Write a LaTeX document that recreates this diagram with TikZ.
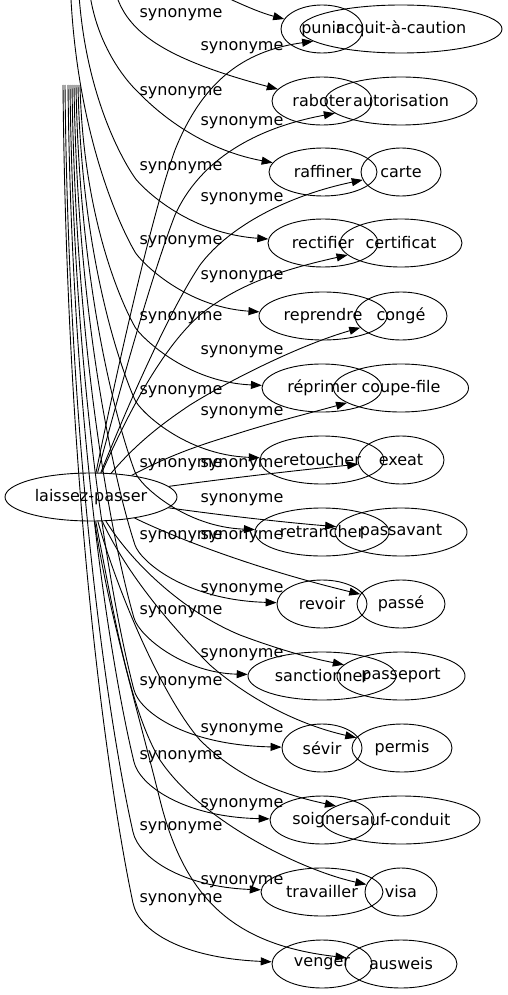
\documentclass[tikz,border=0pt]{standalone}
\usepackage{fontspec}
\setmainfont{DejaVu Sans}
\usetikzlibrary{arrows.meta,shapes.geometric}
\newcommand\zb[1]{\makebox[0pt]{#1}}
\newcommand\synedge[6]{%
  \coordinate (#1) at (#2,#3);
  \draw[edge] (#1) .. controls ({#2+0.06*((#4)-(#2))},{#3+0.55*((#5)-(#3))})
     and ({#4-0.25*((#4)-(#2))},{#5-0.1*((#5)-(#3))}) .. (#4,#5)
     .. controls ({#4+0.0875*((#4)-(#2))},{#5+0.035*((#5)-(#3))})
     and ({#4+50},{#5+55}) .. (#6);}
\begin{document}
\begin{tikzpicture}[x=1pt,y=-1pt,
  word/.style={draw, ellipse, line width=0.9pt, inner sep=0pt, minimum height=48pt},
  lab/.style={inner sep=0pt},
  edge/.style={line width=0.9pt, -{Triangle[length=11pt,width=8pt]}},
  font=\fontsize{16}{19}\selectfont]
\useasboundingbox (0,0) rectangle (507,995);
\clip (0,0) rectangle (507,995);
% verbs
\node[word, minimum width=82pt]  (punir)       at (322,29)  {\zb{punir}};
\node[word, minimum width=100pt] (raboter)     at (322,101) {\zb{raboter}};
\node[word, minimum width=108pt] (raffiner)    at (323,172) {\zb{raffiner}};
\node[word, minimum width=110pt] (rectifier)   at (323,243) {\zb{rectifier}};
\node[word, minimum width=128pt] (reprendre)   at (323,316) {\zb{reprendre}};
\node[word, minimum width=120pt] (reprimer)    at (322,388) {\zb{réprimer}};
\node[word, minimum width=124pt] (retoucher)   at (322,460) {\zb{retoucher}};
\node[word, minimum width=134pt] (retrancher)  at (322,532) {\zb{retrancher}};
\node[word, minimum width=90pt]  (revoir)      at (322,604) {\zb{revoir}};
\node[word, minimum width=148pt] (sanctionner) at (322,676) {\zb{sanctionner}};
\node[word, minimum width=80pt]  (sevir)       at (322,748) {\zb{sévir}};
\node[word, minimum width=104pt] (soigner)     at (322,820) {\zb{soigner}};
\node[word, minimum width=122pt] (travailler)  at (322,892) {\zb{travailler}};
\node[word, minimum width=100pt] (venger)      at (322,964) {\zb{venger}};
% nouns
\node[word, minimum width=202pt] (acq)    at (401,29)  {\zb{acquit-à-caution}};
\node[word, minimum width=152pt] (aut)    at (401,101) {\zb{autorisation}};
\node[word, minimum width=80pt]  (carte)  at (401,172) {\zb{carte}};
\node[word, minimum width=122pt] (cert)   at (401,243) {\zb{certificat}};
\node[word, minimum width=92pt]  (conge)  at (401,316) {\zb{congé}};
\node[word, minimum width=135pt] (coupe)  at (401,388) {\zb{coupe-file}};
\node[word, minimum width=86pt]  (exeat)  at (401,460) {\zb{exeat}};
\node[word, minimum width=132pt] (passav) at (401,532) {\zb{passavant}};
\node[word, minimum width=88pt]  (passe)  at (401,604) {\zb{passé}};
\node[word, minimum width=128pt] (passep) at (401,676) {\zb{passeport}};
\node[word, minimum width=100pt] (permis) at (402,748) {\zb{permis}};
\node[word, minimum width=158pt] (sauf)   at (401,820) {\zb{sauf-conduit}};
\node[word, minimum width=72pt]  (visa)   at (401,892) {\zb{visa}};
\node[word, minimum width=112pt] (ausw)   at (401,964) {\zb{ausweis}};
% source
\node[word, minimum width=172pt] (lp) at (91,497) {\zb{laissez-passer}};
% labels left column
\foreach \n/\yy in {1/15,2/93,3/168,4/242,5/318,6/392,7/465,8/537,9/612,10/683,11/757,12/828,13/900}
  \node[lab] (la\n) at (181,\yy) {synonyme};
% labels right column
\foreach \n/\yy in {1/48,2/123,3/199,4/277,5/352,6/413,7/465,8/500,9/537,10/590,11/655,12/730,13/805,14/882}
  \node[lab] (lb\n) at (242,\yy) {synonyme};
% edges into verbs
\coordinate (sA0) at (185,-20);
\draw[edge] (sA0) .. controls (222,-6) and (250,10) .. (punir);
\coordinate (sA1) at (112,-25);
\draw[edge] (sA1) .. controls (118,25) and (150,55) .. (raboter);
\synedge{sA2}{88}{-25}{138}{92}{raffiner}
\synedge{sA3}{78}{-25}{135}{178}{rectifier}
\synedge{sA4}{70}{-25}{135}{252}{reprendre}
\synedge{sA5}{80}{85}{135}{327}{reprimer}
\synedge{sA6}{78}{85}{135}{400}{retoucher}
\synedge{sA7}{76}{85}{135}{472}{retrancher}
\synedge{sA8}{74}{85}{135}{545}{revoir}
\synedge{sA9}{72}{85}{134}{618}{sanctionner}
\synedge{sA10}{70}{85}{134}{690}{sevir}
\synedge{sA11}{68}{85}{134}{762}{soigner}
\synedge{sA12}{65}{85}{133}{832}{travailler}
\synedge{sA13}{63}{85}{133}{903}{venger}
% edges from laissez-passer
\draw[edge] (lp) .. controls (115,380) and (150,220) .. (175,150) .. controls (205,75) and (250,50) .. (acq);
\draw[edge] (lp) .. controls (120,390) and (150,280) .. (175,215) .. controls (200,160) and (255,128) .. (aut);
\draw[edge] (lp) .. controls (130,400) and (170,310) .. (200,265) .. controls (230,225) and (290,195) .. (carte);
\draw[edge] (lp) .. controls (125,420) and (160,350) .. (200,315) .. controls (240,282) and (290,268) .. (cert);
\draw[edge] (lp) .. controls (135,445) and (160,425) .. (190,405) .. controls (230,380) and (300,345) .. (conge);
\draw[edge] (lp) .. controls (170,455) and (200,445) .. (233,435) .. controls (270,423) and (310,413) .. (coupe);
\draw[edge] (lp) .. controls (230,478) and (300,470) .. (exeat);
\draw[edge] (lp) .. controls (220,515) and (280,522) .. (passav);
\draw[edge] (lp) .. controls (180,540) and (260,570) .. (passe);
\draw[edge] (lp) .. controls (130,560) and (180,610) .. (240,635) .. controls (280,650) and (310,658) .. (passep);
\draw[edge] (lp) .. controls (125,570) and (165,620) .. (210,665) .. controls (250,700) and (300,725) .. (permis);
\draw[edge] (lp) .. controls (120,600) and (165,700) .. (200,740) .. controls (240,780) and (285,795) .. (sauf);
\draw[edge] (lp) .. controls (115,620) and (130,710) .. (160,760) .. controls (200,820) and (300,870) .. (visa);
\draw[edge] (lp) .. controls (108,610) and (135,700) .. (160,800) .. controls (185,900) and (235,945) .. (ausw);
\end{tikzpicture}
\end{document}
